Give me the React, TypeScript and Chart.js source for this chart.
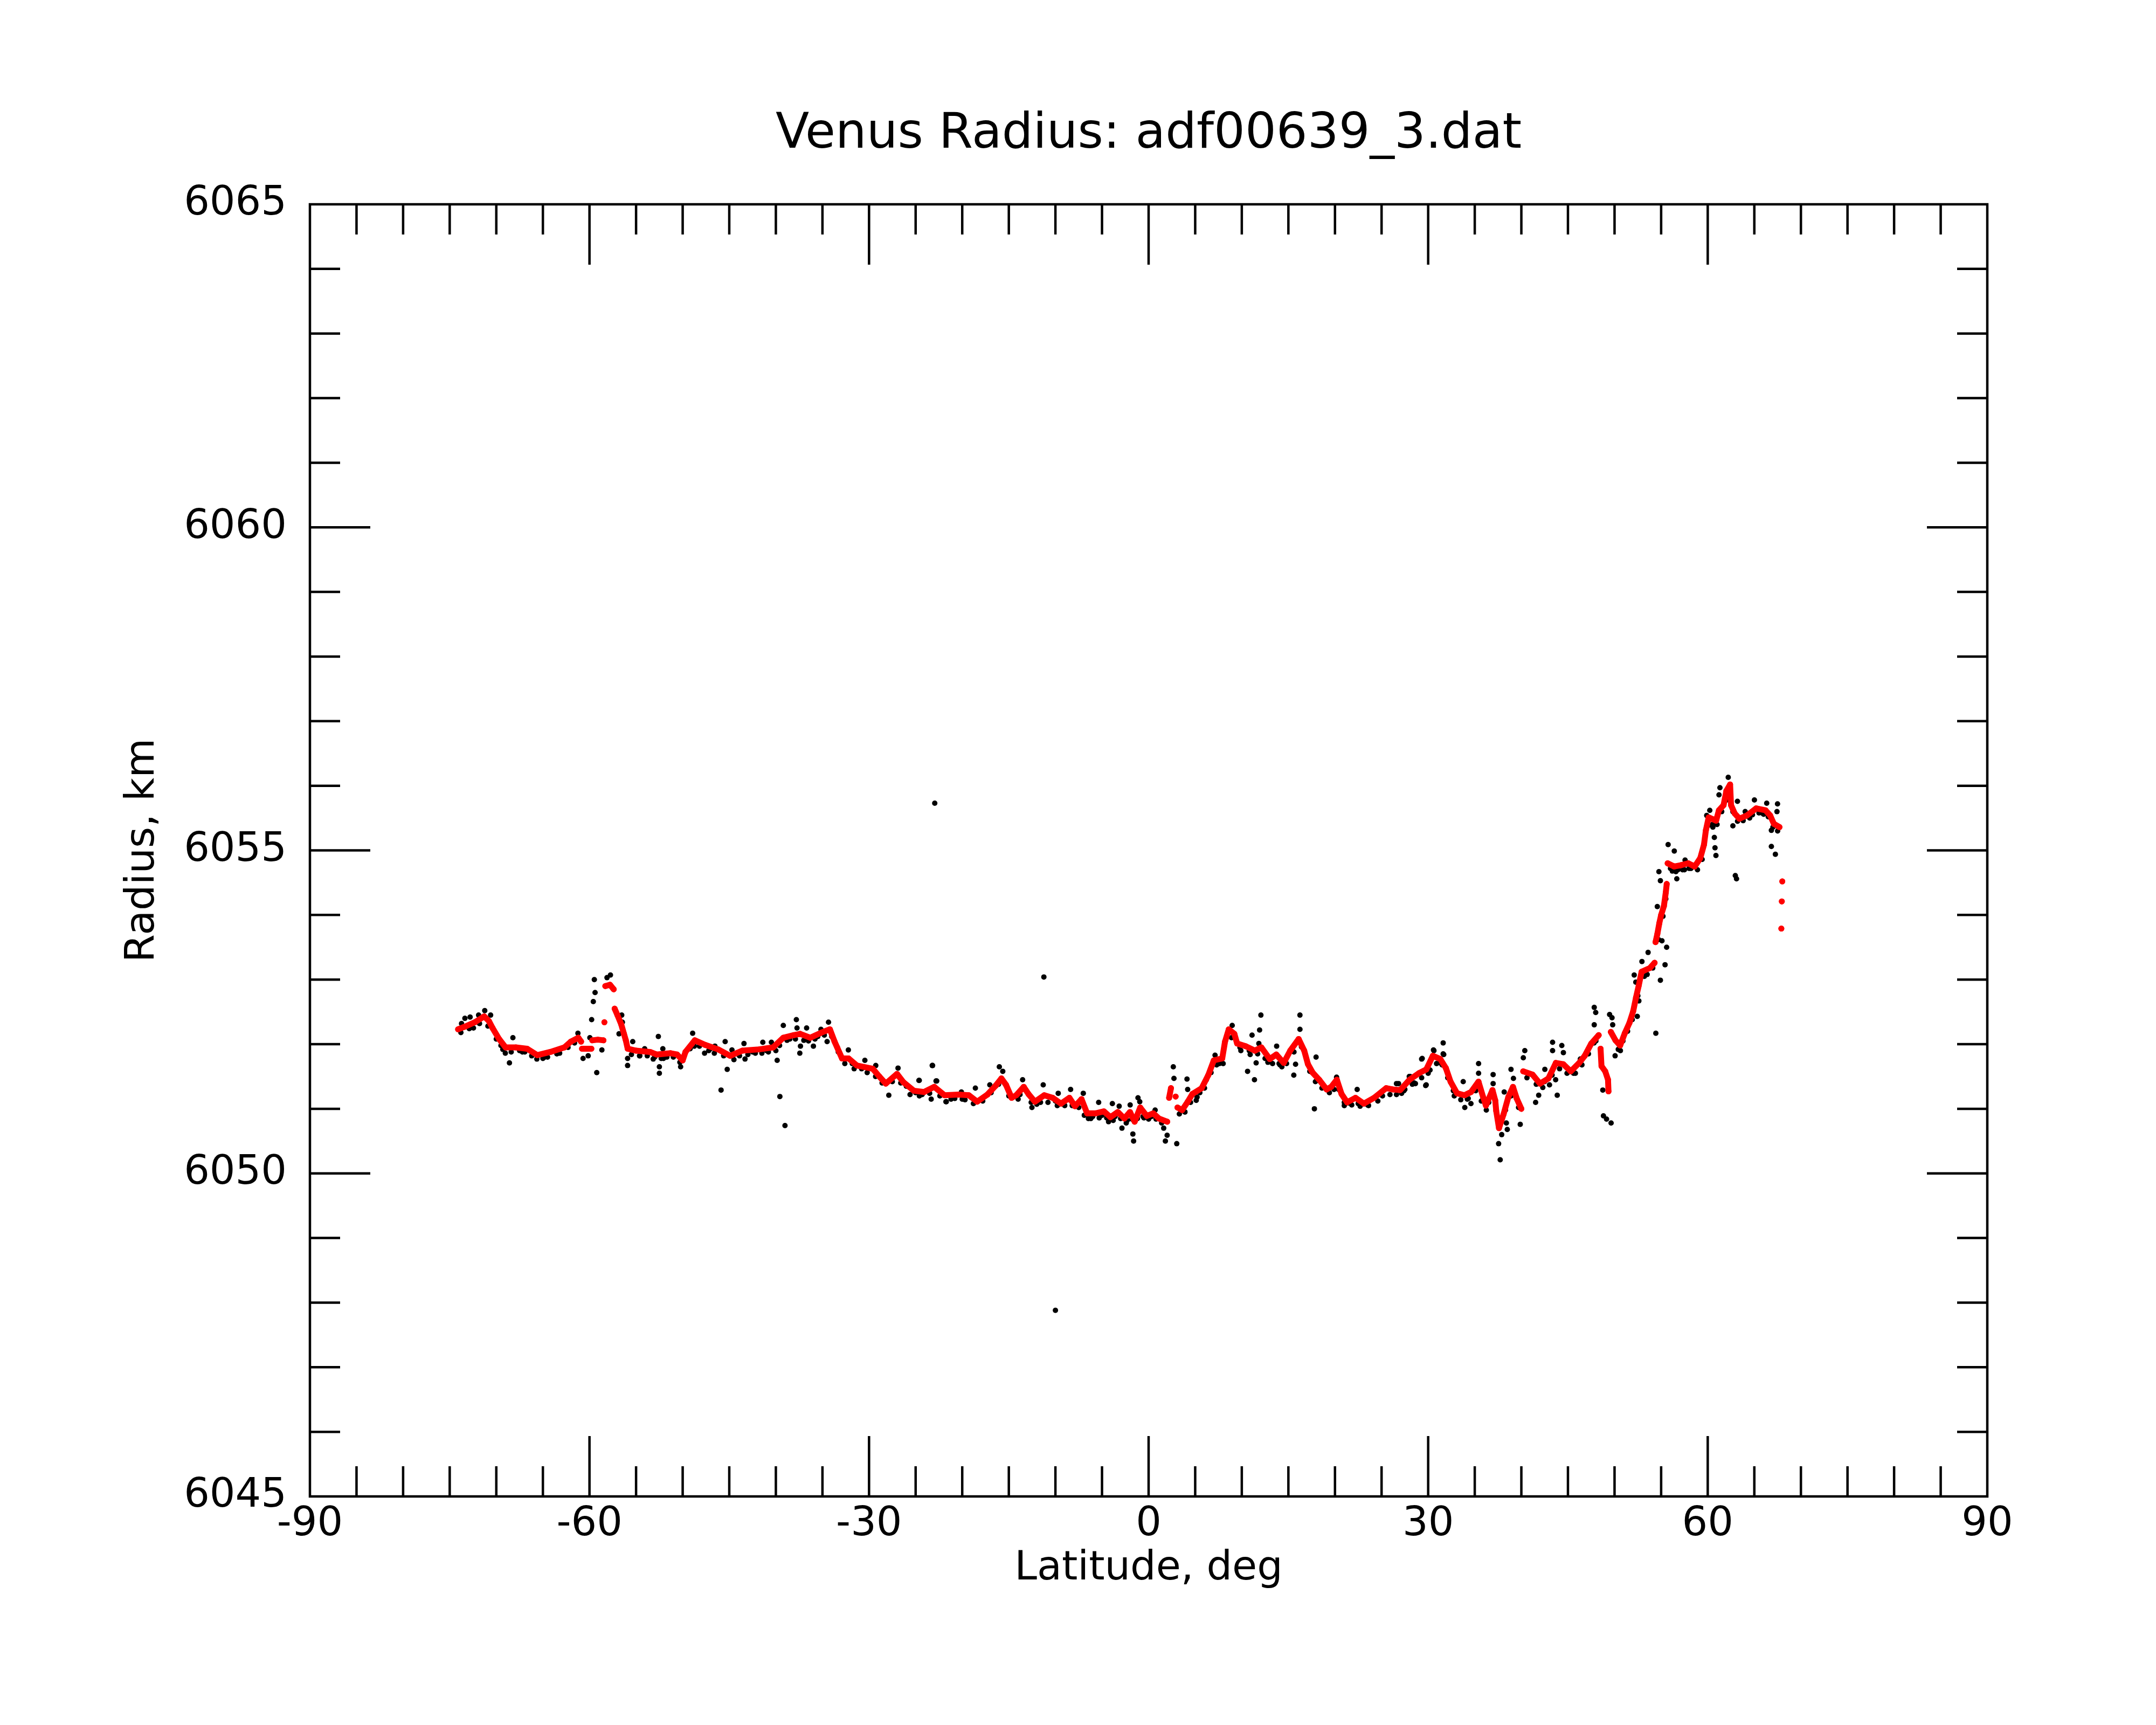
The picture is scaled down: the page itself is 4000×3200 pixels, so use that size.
import { useEffect, useRef } from "react"
import { Chart, registerables } from "chart.js"

Chart.register(...registerables)

const FONT = "'DejaVu Sans', sans-serif"
const TITLE = "Venus Radius: adf00639_3.dat"

// smoothed profile (red), null = gap in the trace
const redLat = [
  -74.1, -73.4, -72.3, -71.3, -70.8, -70.4, -69.7, -69.0, -67.9, -66.7, -65.6, -64.2, -62.7, -62.0, -61.2, -60.9,
  -60.85, -60.8, -60.3, -59.8, -59.75, -59.7, -59.1, -58.5, -58.45, -58.4, -58.35, -58.3, -57.8, -57.4, -57.35,
  -57.3, -57.0, -56.6, -56.3, -56.1, -55.9, -55.0, -53.5, -52.8, -51.3, -50.6, -50.0, -49.7, -48.7, -47.6, -46.2,
  -44.9, -43.6, -41.8, -40.3, -39.2, -38.1, -37.4, -36.3, -35.1, -34.2, -33.7, -32.9, -32.2, -31.3, -29.6, -28.9,
  -28.2, -27.0, -26.3, -25.2, -24.1, -23.0, -21.9, -20.4, -19.3, -18.4, -17.3, -16.4, -15.8, -15.3, -14.7, -14.2,
  -13.4, -12.9, -12.2, -11.2, -10.3, -9.4, -8.5, -7.9, -7.2, -6.6, -5.7, -4.8, -4.1, -3.3, -2.6, -2.0, -1.5, -0.9,
  -0.2, 0.5, 1.1, 2.0, 2.1, 2.2, 2.4, 2.6, 2.9, 3.0, 3.1, 3.6, 4.2, 4.7, 5.7, 6.4, 7.0, 7.9, 8.2, 8.6, 9.2, 9.5,
  10.4, 11.4, 12.1, 13.0, 13.7, 14.5, 15.2, 16.1, 16.7, 17.1, 17.6, 18.3, 19.1, 19.6, 20.2, 20.7, 21.3, 22.2, 23.1,
  24.2, 25.5, 26.2, 27.0, 28.0, 29.0, 29.8, 30.5, 31.3, 31.9, 32.4, 33.1, 33.9, 34.6, 35.4, 35.9, 36.2, 36.9, 37.2,
  37.3, 37.6, 38.1, 38.6, 39.1, 39.5, 40.0, 40.1, 40.2, 41.2, 42.0, 42.9, 43.7, 44.5, 45.3, 46.2, 46.8, 47.5, 48.3,
  48.4, 48.5, 48.6, 49.0, 49.3, 49.35, 49.5, 49.6, 50.1, 50.6, 51.1, 51.6, 52.0, 52.3, 52.6, 52.9, 53.8, 54.3,
  54.35, 54.4, 54.6, 54.8, 55.0, 55.3, 55.5, 55.6, 55.65, 55.7, 56.4, 57.1, 57.9, 58.6, 59.2, 59.6, 59.8, 60.1,
  60.9, 61.2, 61.7, 62.0, 62.4, 62.5, 62.9, 63.4, 64.2, 65.2, 66.2, 66.7, 67.1, 67.7, 67.8, 68.0, 68.0, 67.95,
  67.95, 67.9,
]
const redRadius = [
  6052.23, 6052.27, 6052.34, 6052.43, 6052.36, 6052.25, 6052.08, 6051.95, 6051.95, 6051.93, 6051.83, 6051.88,
  6051.95, 6052.04, 6052.10, 6052.04, null, 6051.93, 6051.93, 6051.93, null, 6052.06, 6052.07, 6052.06, null,
  6052.34, null, 6052.90, 6052.92, 6052.85, null, 6052.55, 6052.45, 6052.31, 6052.16, 6052.06, 6051.93, 6051.90,
  6051.88, 6051.84, 6051.86, 6051.84, 6051.75, 6051.88, 6052.06, 6051.99, 6051.92, 6051.82, 6051.90, 6051.92,
  6051.95, 6052.10, 6052.14, 6052.16, 6052.10, 6052.18, 6052.23, 6052.04, 6051.78, 6051.78, 6051.67, 6051.62,
  6051.50, 6051.39, 6051.54, 6051.41, 6051.28, 6051.26, 6051.34, 6051.21, 6051.22, 6051.21, 6051.11, 6051.22,
  6051.36, 6051.47, 6051.37, 6051.17, 6051.21, 6051.34, 6051.23, 6051.11, 6051.21, 6051.17, 6051.08, 6051.17,
  6051.04, 6051.15, 6050.93, 6050.93, 6050.96, 6050.87, 6050.95, 6050.85, 6050.95, 6050.80, 6051.02, 6050.89,
  6050.93, 6050.85, 6050.80, null, 6051.17, 6051.32, null, 6051.19, null, 6051.02, 6050.98, 6051.11, 6051.23,
  6051.32, 6051.52, 6051.75, 6051.78, 6052.04, 6052.23, 6052.16, 6052.01, 6051.97, 6051.90, 6051.95, 6051.77,
  6051.84, 6051.71, 6051.90, 6052.08, 6051.90, 6051.69, 6051.56, 6051.45, 6051.30, 6051.34, 6051.45, 6051.23,
  6051.10, 6051.17, 6051.08, 6051.17, 6051.32, 6051.30, 6051.29, 6051.45, 6051.55, 6051.61, 6051.82, 6051.77,
  6051.63, 6051.42, 6051.24, 6051.21, 6051.26, 6051.42, 6051.18, 6051.05, 6051.29, 6051.13, 6050.97, 6050.70,
  6050.92, 6051.18, 6051.34, 6051.16, 6051.00, null, 6051.58, 6051.53, 6051.39, 6051.47, 6051.71, 6051.69,
  6051.58, 6051.71, 6051.82, 6052.01, 6052.14, null, 6051.93, 6051.66, 6051.58, 6051.45, 6051.27, null, 6052.19,
  6052.06, 6051.98, 6052.17, 6052.33, 6052.51, 6052.72, 6052.91, 6053.12, 6053.18, 6053.26, null, 6053.58,
  6053.71, 6053.87, 6054.00, 6054.14, 6054.35, 6054.48, null, 6054.80, 6054.75, 6054.77, 6054.80, 6054.75,
  6054.88, 6055.09, 6055.31, 6055.51, 6055.46, 6055.62, 6055.70, 6055.92, 6056.02, 6055.70, 6055.57, 6055.49,
  6055.54, 6055.65, 6055.62, 6055.54, 6055.41, 6055.36, null, 6054.52, null, 6054.21, null, 6053.79,
]

// individual measurements (black): scattered ones
const blackLat = [
  -73.73, -73.37, -72.81, -72.45, -71.90, -71.24, -70.61, -69.03, -68.59, -68.22, -66.94, -65.65, -61.24, -60.69,
  -60.14, -59.96, -59.77, -59.59, -59.40, -59.48, -59.22, -58.67, -58.12, -57.75, -56.83, -56.54, -56.47, -55.91,
  -55.91, -55.36, -54.63, -54.08, -53.16, -52.61, -52.50, -52.50, -52.13, -52.06, -50.22, -48.93, -48.75, -47.65,
  -46.54, -45.88, -45.44, -45.22, -44.71, -43.42, -43.31, -41.40, -40.48, -39.86, -39.57, -39.20, -39.02, -37.80,
  -37.73, -37.43, -37.36, -36.70, -35.97, -35.16, -34.35, -34.50, -32.22, -30.45, -29.28, -27.88, -26.89, -24.61,
  -23.22, -23.33, -22.74, -21.75, -20.09, -69.5, -67.5, -64.8, -63.5, -53.8, -51.7, -47.0, -44.0, -42.5, -41.0,
  -38.5, -36.8, -35.5, -33.4, -31.8, -30.8, -28.5, -26.0, -25.0, -24.3, -22.95, -10.0,
  -24.65, -23.18, -22.81, -21.71, -18.59, -17.04, -16.02, -15.65, -13.52, -12.52, -11.31, -9.70, -8.37, -7.01,
  -6.46, -5.36, -3.89, -3.16, -2.86, -1.98, -1.69, -1.61, -1.14, -0.95, 0.70, 1.62, 1.80, 1.99, 2.65, 2.72, 3.02,
  3.82, 4.12, 4.19, 5.11, 7.13, 8.97, 10.62, 11.10, 11.36, 11.54, 11.83, 11.91, 12.05, 13.74, 14.30, 15.58, 15.77,
  16.24, 16.24, 17.79, 17.97, 20.17, 21.46, 22.38, 22.49, 26.60, 28.07, 29.36, 29.73, 30.57, 31.67, -11.24, -20.0,
  -19.0, -14.0, -12.0, -10.0, -6.0, -5.0, -4.5, -3.6, -2.3, -0.5, 0.3, 5.5, 6.2, 7.6, 9.8, 10.8, 12.8, 14.0, 16.5,
  18.8, 21.0, 23.5, 25.0, 27.5,
  26.82, 27.15, 27.97, 28.63, 29.30, 29.79, 30.62, 31.61, 31.61, 31.28, 33.76, 33.93, 34.59, 35.41, 35.41, 36.24,
  36.97, 36.97, 37.56, 37.73, 37.89, 38.16, 38.39, 38.49, 38.89, 39.15, 39.88, 40.21, 40.37, 41.53, 41.86, 42.52,
  43.02, 43.35, 43.35, 43.68, 43.85, 44.34, 44.51, 46.33, 47.82, 47.98, 47.82, 48.74, 48.81, 49.14, 49.63, 49.47,
  49.73, 49.80, 50.06, 50.63, 52.11, 52.28, 52.44, 52.61, 52.94, 53.60, 54.43, 54.59, 54.76, 54.92, 54.92, 55.09,
  55.42, 55.59, 55.75, 56.41, 56.58, 56.68, 57.57, 59.89, 60.22, 60.55, 60.71, 60.78, 60.88, 61.21, 61.31, 62.20,
  62.04, 62.70, 62.96, 63.09, 63.19, 64.02, 65.01, 66.33, 66.83, 67.26, 66.83, 67.43, 67.49, 28.5, 30.0, 32.8,
  34.2, 42.5, 45.8, 47.2, 51.4, 53.2, 56.0, 57.5, 58.2, 64.8, 65.8,
]
const blackRadius = [
  6052.32, 6052.40, 6052.42, 6052.25, 6052.45, 6052.52, 6052.45, 6051.86, 6051.71, 6052.10, 6051.88, 6051.77,
  6052.17, 6051.78, 6051.82, 6052.10, 6052.38, 6052.66, 6052.80, 6053.00, 6051.56, 6051.91, 6053.03, 6053.07,
  6052.16, 6052.45, 6052.34, 6051.78, 6051.67, 6052.04, 6051.82, 6051.93, 6051.77, 6052.12, 6051.65, 6051.55,
  6051.93, 6051.78, 6051.65, 6052.17, 6051.97, 6051.86, 6051.97, 6051.29, 6052.04, 6051.61, 6051.91, 6052.01,
  6051.77, 6052.03, 6052.03, 6051.75, 6051.19, 6052.29, 6050.74, 6052.38, 6052.25, 6051.86, 6051.97, 6052.25,
  6051.97, 6052.23, 6052.34, 6052.04, 6051.91, 6051.75, 6051.67, 6051.21, 6051.63, 6051.44, 6051.67, 6051.15,
  6051.43, 6051.11, 6051.26, 6051.98, 6051.90, 6051.80, 6051.85, 6051.82, 6051.80, 6051.93, 6051.84, 6051.88,
  6051.90, 6052.08, 6052.08, 6052.12, 6051.95, 6051.70, 6051.62, 6051.42, 6051.35, 6051.25, 6051.22, 6055.73,
  6047.88,
  6051.44, 6051.67, 6051.43, 6051.11, 6051.32, 6051.37, 6051.65, 6051.58, 6051.45, 6051.02, 6051.37, 6051.24,
  6051.30, 6051.24, 6050.85, 6051.10, 6051.08, 6051.04, 6050.70, 6051.06, 6050.61, 6050.50, 6051.17, 6051.11,
  6050.98, 6050.70, 6050.50, 6050.59, 6051.65, 6051.47, 6050.46, 6050.96, 6051.46, 6051.30, 6051.13, 6051.83,
  6052.29, 6051.58, 6052.14, 6051.45, 6051.71, 6052.01, 6052.22, 6052.45, 6051.97, 6051.65, 6051.52, 6051.69,
  6052.45, 6052.23, 6051.00, 6051.80, 6051.49, 6051.09, 6051.30, 6051.08, 6051.39, 6051.50, 6051.78, 6051.36,
  6051.91, 6051.84, 6053.04, 6051.15, 6051.17, 6051.15, 6051.07, 6051.12, 6050.88, 6050.90, 6050.86, 6050.88,
  6050.82, 6050.86, 6050.88, 6051.25, 6051.45, 6051.70, 6051.95, 6051.90, 6051.72, 6051.70, 6051.95, 6051.35,
  6051.10, 6051.06, 6051.22, 6051.30,
  6051.39, 6051.24, 6051.50, 6051.39, 6051.77, 6051.37, 6051.90, 6052.02, 6051.85, 6051.71, 6051.42, 6051.02,
  6051.08, 6051.70, 6051.55, 6050.98, 6051.53, 6051.39, 6050.46, 6050.21, 6050.60, 6051.26, 6050.78, 6050.68,
  6051.61, 6051.47, 6050.76, 6051.79, 6051.90, 6051.10, 6051.21, 6051.61, 6051.37, 6052.03, 6051.90, 6051.45,
  6051.21, 6051.98, 6051.87, 6051.77, 6052.57, 6052.49, 6052.30, 6051.29, 6050.89, 6050.84, 6050.78, 6052.46,
  6052.41, 6052.30, 6051.82, 6051.90, 6053.07, 6052.96, 6052.43, 6052.67, 6053.28, 6053.42, 6052.17, 6054.13,
  6054.67, 6054.53, 6052.99, 6053.60, 6053.23, 6053.50, 6055.09, 6054.99, 6054.67, 6054.56, 6054.85, 6055.54,
  6055.62, 6055.36, 6055.20, 6055.04, 6054.92, 6055.86, 6055.97, 6056.13, 6055.78, 6055.38, 6054.61, 6054.56,
  6055.76, 6055.60, 6055.78, 6055.73, 6055.06, 6054.94, 6055.31, 6055.60, 6055.72, 6051.40, 6051.55, 6051.20,
  6051.15, 6051.42, 6051.55, 6051.85, 6052.20, 6053.05, 6054.72, 6054.70, 6054.72, 6055.55, 6055.58,
]

// individual measurements (black) that hug the underside of the smoothed trace
const hugLat = [
  -73.8, -72.9, -71.8, -70.9, -70.0, -69.3, -68.4, -67.2, -66.2, -65.0, -64.5, -63.2, -62.3, -61.6, -55.5, -54.6,
  -53.0, -52.3, -51.0, -50.3, -49.2, -48.2, -47.2, -46.6, -45.6, -44.5, -43.9, -43.0, -42.2, -41.5, -40.8, -40.0,
  -39.6, -38.8, -37.9, -37.0, -36.5, -35.8, -34.8, -34.0, -33.3, -32.6, -31.6, -30.2, -29.3, -28.6, -27.5, -26.6,
  -25.6, -24.6, -23.5, -22.4, -21.2, -20.8, -19.7, -18.8, -17.8, -16.9, -16.1, -15.0, -13.8, -12.6, -11.6, -10.8,
  -9.8, -9.0, -8.2, -7.5, -6.9, -6.2, -5.3, -4.3, -3.8, -3.0, -2.4, -1.8, -1.2, -0.6, 0.0, 0.8, 1.4, 3.3, 3.9, 4.5,
  5.2, 6.0, 6.7, 7.3, 8.0, 8.9, 9.9, 10.9, 11.7, 12.5, 13.3, 14.1, 14.8, 15.6, 16.4, 17.3, 17.9, 18.6, 19.4, 19.9,
  20.4, 21.0, 21.8, 22.7, 23.6, 24.6, 25.1, 25.9, 26.6, 27.4, 28.3, 29.3, 30.2, 30.9, 31.5, 32.1, 32.7, 33.5, 34.3,
  35.1, 35.7, 36.5, 38.3, 38.9, 39.7, 40.6, 41.6, 42.3, 43.3, 44.1, 44.9, 45.6, 46.5, 47.8, 48.0, 50.4, 50.9, 51.9,
  52.5, 53.5, 54.1, 54.7, 55.2, 55.5, 56.2, 56.8, 57.3, 58.0, 58.9, 59.4, 60.0, 60.5, 61.0, 61.5, 62.2, 62.7, 63.2,
  63.8, 64.5, 65.5, 66.0, 66.5, 67.0, 67.5,
]
const hugRadius = [
  6052.18, 6052.24, 6052.32, 6052.28, 6052.08, 6051.92, 6051.88, 6051.88, 6051.82, 6051.78, 6051.80, 6051.86,
  6051.95, 6052.02, 6051.84, 6051.82, 6051.80, 6051.78, 6051.80, 6051.72, 6051.93, 6051.97, 6051.90, 6051.86,
  6051.82, 6051.76, 6051.82, 6051.84, 6051.86, 6051.86, 6051.88, 6051.90, 6051.98, 6052.06, 6052.08, 6052.06,
  6052.05, 6052.08, 6052.14, 6052.12, 6051.88, 6051.70, 6051.62, 6051.56, 6051.50, 6051.40, 6051.42, 6051.40,
  6051.22, 6051.20, 6051.24, 6051.20, 6051.15, 6051.16, 6051.14, 6051.08, 6051.12, 6051.25, 6051.38, 6051.20,
  6051.22, 6051.10, 6051.10, 6051.10, 6051.05, 6051.05, 6051.05, 6051.02, 6050.90, 6050.85, 6050.86, 6050.80,
  6050.82, 6050.85, 6050.78, 6050.84, 6050.85, 6050.88, 6050.84, 6050.84, 6050.78, 6050.92, 6050.95, 6051.10,
  6051.18, 6051.32, 6051.56, 6051.68, 6051.70, 6052.10, 6051.90, 6051.84, 6051.85, 6051.78, 6051.70, 6051.68,
  6051.70, 6051.88, 6051.96, 6051.58, 6051.42, 6051.32, 6051.25, 6051.30, 6051.30, 6051.05, 6051.06, 6051.04,
  6051.05, 6051.12, 6051.20, 6051.22, 6051.22, 6051.28, 6051.38, 6051.48, 6051.60, 6051.70, 6051.68, 6051.48,
  6051.28, 6051.14, 6051.16, 6051.28, 6051.12, 6051.10, 6050.98, 6051.20, 6051.02, 6051.48, 6051.38, 6051.33,
  6051.52, 6051.62, 6051.55, 6051.55, 6051.68, 6052.02, 6052.05, 6051.92, 6052.05, 6052.38, 6052.75, 6053.08,
  6053.18, 6053.62, 6053.98, 6054.25, 6054.68, 6054.70, 6054.70, 6054.72, 6054.70, 6054.86, 6055.38, 6055.40,
  6055.40, 6055.60, 6055.85, 6055.60, 6055.45, 6055.46, 6055.50, 6055.58, 6055.56, 6055.52, 6055.36, 6055.30,
]

const latMin = -90
const latMax = 90
const latMajor = 30
const latMinor = 5
const radiusMin = 6045
const radiusMax = 6065
const radiusMajor = 5
const radiusMinor = 1

// box around the plot with inward ticks on all four sides, plus the title
const framePlugin = {
  id: "frame",
  afterDraw(chart: any) {
    const { ctx, chartArea: a, scales } = chart
    const xs = scales.x
    const ys = scales.y
    ctx.save()
    ctx.strokeStyle = "#000"
    ctx.lineWidth = 4.5
    ctx.strokeRect(a.left, a.top, a.right - a.left, a.bottom - a.top)
    ctx.beginPath()
    for (let v = latMin + latMinor; v < latMax; v += latMinor) {
      const px = xs.getPixelForValue(v)
      const len = v % latMajor === 0 ? 112 : 56
      ctx.moveTo(px, a.bottom)
      ctx.lineTo(px, a.bottom - len)
      ctx.moveTo(px, a.top)
      ctx.lineTo(px, a.top + len)
    }
    for (let v = radiusMin + radiusMinor; v < radiusMax; v += radiusMinor) {
      const py = ys.getPixelForValue(v)
      const len = v % radiusMajor === 0 ? 112 : 56
      ctx.moveTo(a.left, py)
      ctx.lineTo(a.left + len, py)
      ctx.moveTo(a.right, py)
      ctx.lineTo(a.right - len, py)
    }
    ctx.stroke()

    // title sits centred over the plot box
    ctx.fillStyle = "#000"
    ctx.font = `91px ${FONT}`
    ctx.textAlign = "center"
    ctx.textBaseline = "middle"
    ctx.fillText(TITLE, (a.left + a.right) / 2, 250)
    ctx.restore()
  },
}

export default function App() {
  const chartRef = useRef<HTMLCanvasElement>(null)
  const chartInstance = useRef<Chart | null>(null)

  useEffect(() => {
    if (!chartRef.current) return
    if (chartInstance.current) chartInstance.current.destroy()
    const ctx = chartRef.current.getContext("2d")
    if (!ctx) return

    const redPoints = redLat.map((x, i) => ({ x, y: redRadius[i] }))
    const blackPoints = blackLat
      .map((x, i) => ({ x, y: blackRadius[i] }))
      .concat(hugLat.map((x, i) => ({ x, y: hugRadius[i] })))

    chartInstance.current = new Chart(ctx, {
      type: "scatter",
      data: {
        datasets: [
          {
            label: "Smoothed",
            data: redPoints as any,
            showLine: true,
            spanGaps: false,
            borderColor: "#ff0000",
            backgroundColor: "#ff0000",
            borderWidth: 11,
            borderJoinStyle: "round",
            borderCapStyle: "round",
            pointRadius: 5.5,
            pointBorderWidth: 0,
            order: 0,
          },
          {
            label: "Radius",
            data: blackPoints,
            backgroundColor: "#000",
            borderColor: "#000",
            pointRadius: 5,
            pointBorderWidth: 0,
            order: 1,
          },
        ],
      },
      options: {
        responsive: false,
        animation: false,
        devicePixelRatio: 1,
        layout: { padding: { left: 0, top: 379, right: 313, bottom: 0 } },
        plugins: {
          legend: { display: false },
          tooltip: { enabled: false },
          title: { display: false },
        },
        scales: {
          x: {
            type: "linear",
            min: latMin,
            max: latMax,
            grid: { display: false, drawTicks: false },
            border: { display: false },
            ticks: {
              stepSize: latMajor,
              color: "#000",
              font: { family: FONT, size: 75 },
              padding: 8,
              maxRotation: 0,
              callback: (v: any) => String(v),
            },
            title: {
              display: true,
              text: "Latitude, deg",
              color: "#000",
              font: { family: FONT, size: 75 },
              padding: { top: 0, bottom: 244 },
            },
            afterFit: (scale: any) => {
              scale.height = 424
            },
          },
          y: {
            type: "linear",
            min: radiusMin,
            max: radiusMax,
            grid: { display: false, drawTicks: false },
            border: { display: false },
            ticks: {
              stepSize: radiusMajor,
              color: "#000",
              font: { family: FONT, size: 75 },
              padding: 43,
              callback: (v: any) => String(v),
            },
            title: {
              display: true,
              text: "Radius, km",
              color: "#000",
              font: { family: FONT, size: 75 },
              padding: { top: 221, bottom: 0 },
            },
            afterFit: (scale: any) => {
              scale.width = 575
            },
          },
        },
      },
      plugins: [framePlugin],
    })

    return () => {
      if (chartInstance.current) {
        chartInstance.current.destroy()
        chartInstance.current = null
      }
    }
  }, [])

  return (
    <div style={{ position: "absolute", left: 0, top: 0, width: 4000, height: 3200, background: "#fff" }}>
      <canvas ref={chartRef} width={4000} height={3200} />
    </div>
  )
}
